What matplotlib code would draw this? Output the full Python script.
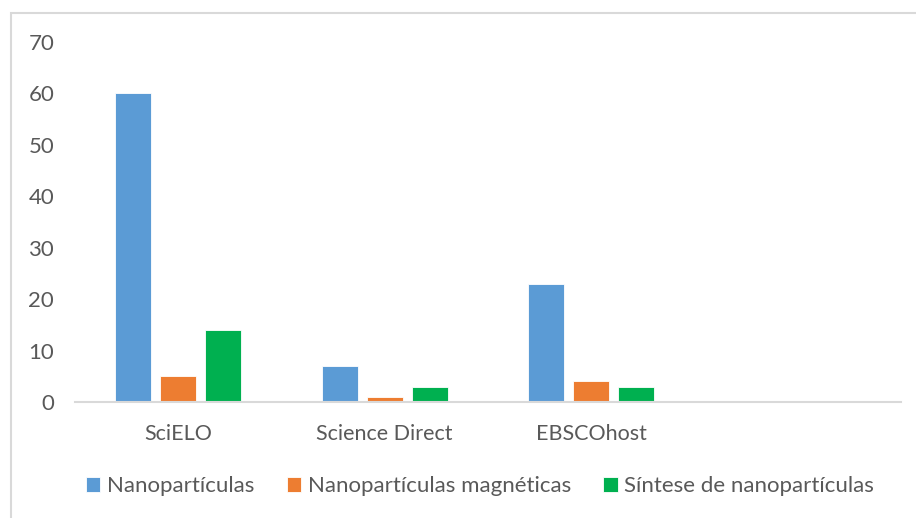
import numpy as np
import matplotlib
matplotlib.use('Agg')
import matplotlib.pyplot as plt
from matplotlib.patches import Rectangle

categories = ['SciELO', 'Science Direct', 'EBSCOhost']
series_names = ['Nanopartículas', 'Nanopartículas magnéticas', 'Síntese de nanopartículas']
nano = [60, 7, 23]
nano_mag = [5, 1, 4]
sintese = [14, 3, 3]
colors = ['#5B9BD5', '#ED7D31', '#00B050']

plt.rcParams['font.family'] = ['Lato', 'DejaVu Sans']
text_color = '#595959'

W, H = 916, 518
fig = plt.figure(figsize=(W / 100, H / 100), dpi=100)
ax = fig.add_axes([75 / W, 116 / H, (901 - 75) / W, (402 - 42) / H])

# chart border (cut off at the right and bottom)
fig.patches.append(Rectangle((11 / W, -0.1), 1.2, 1 - 13 / H + 0.1,
                             transform=fig.transFigure, fill=False,
                             edgecolor='#D9D9D9', linewidth=1.5))

x = np.arange(len(categories))
bw = 0.174
step = 0.218
for i, (vals, name) in enumerate(zip([nano, nano_mag, sintese], series_names)):
    ax.bar(x + (i - 1) * step, vals, width=bw, color=colors[i], label=name,
           edgecolor='white', linewidth=0.6)

ax.set_xlim(-0.5, len(categories) + 0.5)
ax.set_ylim(0, 70)
ax.set_yticks(range(0, 71, 10))
ax.set_xticks(x)
ax.set_xticklabels(categories)

for s in ['top', 'right', 'left']:
    ax.spines[s].set_visible(False)
ax.spines['bottom'].set_color('#D9D9D9')
ax.spines['bottom'].set_linewidth(1.5)
ax.tick_params(axis='both', length=0, colors=text_color)
ax.tick_params(axis='y', pad=15, labelsize=16)
ax.tick_params(axis='x', pad=16, labelsize=15.5)

fig.legend(loc='center', bbox_to_anchor=(480 / W, 1 - 486 / H), ncol=3,
           frameon=False, fontsize=16, labelcolor=text_color,
           handlelength=0.65, handleheight=0.65, handletextpad=0.3,
           columnspacing=1.45)

fig.savefig('out.png', dpi=100)
